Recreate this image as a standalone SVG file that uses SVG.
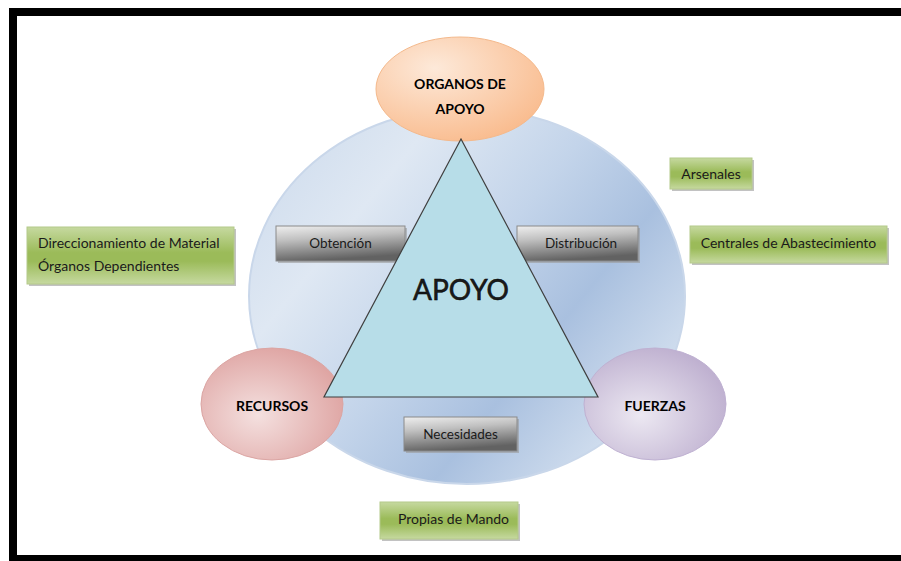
<svg xmlns="http://www.w3.org/2000/svg" width="901" height="561" viewBox="0 0 901 561">
<defs>
<linearGradient id="gCircle" x1="0" y1="0" x2="1" y2="0.7">
<stop offset="0" stop-color="#c9d8eb"/>
<stop offset="0.3" stop-color="#dfe8f3"/>
<stop offset="0.55" stop-color="#c3d4ea"/>
<stop offset="0.75" stop-color="#a9c0df"/>
<stop offset="1" stop-color="#d5e1f0"/>
</linearGradient>
<radialGradient id="gOrange" cx="0.35" cy="0.3" r="0.8">
<stop offset="0" stop-color="#fde9d9"/>
<stop offset="1" stop-color="#f9b98a"/>
</radialGradient>
<radialGradient id="gRed" cx="0.4" cy="0.6" r="0.8">
<stop offset="0" stop-color="#f4e0df"/>
<stop offset="1" stop-color="#d99593"/>
</radialGradient>
<radialGradient id="gPurple" cx="0.4" cy="0.6" r="0.8">
<stop offset="0" stop-color="#ece8f2"/>
<stop offset="1" stop-color="#b3a2c7"/>
</radialGradient>
<linearGradient id="gGray" x1="0" y1="0" x2="0.25" y2="1">
<stop offset="0" stop-color="#efefef"/>
<stop offset="0.4" stop-color="#c0c0c0"/>
<stop offset="1" stop-color="#626262"/>
</linearGradient>
<linearGradient id="gGreen" x1="0" y1="0" x2="0" y2="1">
<stop offset="0" stop-color="#c6d9a0"/>
<stop offset="0.45" stop-color="#9bbb59"/>
<stop offset="0.6" stop-color="#9bbb59"/>
<stop offset="1" stop-color="#c6d9a0"/>
</linearGradient>
</defs>
<style>
.t{font-family:Lato,"Liberation Sans",sans-serif;fill:#1a1a1a;}
.bold{font-weight:bold;font-size:14px;text-anchor:middle;fill:#000;}
.gray{fill:url(#gGray);stroke:#8a8a8a;stroke-width:1;}
.green{fill:url(#gGreen);stroke:#b4c98a;stroke-width:1;}
.shadow{fill:#9a9a9a;opacity:0.6;}
.lbl{font-size:13.5px;}
</style>
<rect x="0" y="0" width="901" height="561" fill="#ffffff"/>
<rect x="13" y="12" width="900" height="547" fill="#ffffff" stroke="#000" stroke-width="8"/>

<g id="circle">
<ellipse cx="467" cy="296" rx="218" ry="188" fill="url(#gCircle)" stroke="#c9d7ea" stroke-width="2"/>
</g>

<g id="obtencion">
<rect class="shadow" x="278" y="228" width="129" height="35"/>
<rect class="gray" x="276" y="226" width="129" height="35"/>
<text class="t lbl" x="340.5" y="248" text-anchor="middle">Obtención</text>
</g>
<g id="distribucion">
<rect class="shadow" x="519" y="228" width="121" height="35"/>
<rect class="gray" x="517" y="226" width="121" height="35"/>
<text class="t lbl" x="581" y="248" text-anchor="middle">Distribución</text>
</g>
<g id="necesidades">
<rect class="shadow" x="406" y="419" width="113" height="34"/>
<rect class="gray" x="404" y="417" width="113" height="34"/>
<text class="t lbl" x="460.5" y="439" text-anchor="middle">Necesidades</text>
</g>

<g id="organos">
<ellipse cx="460" cy="89" rx="84" ry="52" fill="url(#gOrange)" stroke="#f4b98c" stroke-width="1"/>
<text class="t bold" x="460" y="89">ORGANOS DE</text>
<text class="t bold" x="460" y="114">APOYO</text>
</g>
<g id="recursos">
<ellipse cx="272" cy="404" rx="71" ry="56" fill="url(#gRed)" stroke="#dba5a3" stroke-width="1"/>
<text class="t bold" x="272" y="411">RECURSOS</text>
</g>
<g id="fuerzas">
<ellipse cx="655" cy="404" rx="71" ry="56" fill="url(#gPurple)" stroke="#bfb1d2" stroke-width="1"/>
<text class="t bold" x="655" y="411">FUERZAS</text>
</g>

<g id="apoyo">
<polygon points="461,139 324,397 598,397" fill="#b7dde8" stroke="#3f3f3f" stroke-width="1.2"/>
<text class="t" x="461" y="300" text-anchor="middle" font-size="28" fill="#000" stroke="#000" stroke-width="0.5">APOYO</text>
</g>

<g id="direccionamiento">
<rect class="shadow" x="29" y="229" width="207" height="57"/>
<rect class="green" x="27" y="227" width="207" height="57"/>
<text class="t" x="38" y="248" font-size="14">Direccionamiento de Material</text>
<text class="t" x="38" y="271" font-size="14">Órganos  Dependientes</text>
</g>
<g id="arsenales">
<rect class="shadow" x="672" y="160" width="82" height="31"/>
<rect class="green" x="670" y="158" width="82" height="31"/>
<text class="t" x="711" y="179" font-size="14" text-anchor="middle">Arsenales</text>
</g>
<g id="centrales">
<rect class="shadow" x="692" y="228" width="197" height="37"/>
<rect class="green" x="690" y="226" width="197" height="37"/>
<text class="t" x="788.5" y="248" font-size="14" text-anchor="middle">Centrales de Abastecimiento</text>
</g>
<g id="propias">
<rect class="shadow" x="382" y="504" width="138" height="37"/>
<rect class="green" x="380" y="502" width="138" height="37"/>
<text class="t" x="398" y="524" font-size="14">Propias de Mando</text>
</g>
<g id="connectors"></g>
</svg>
